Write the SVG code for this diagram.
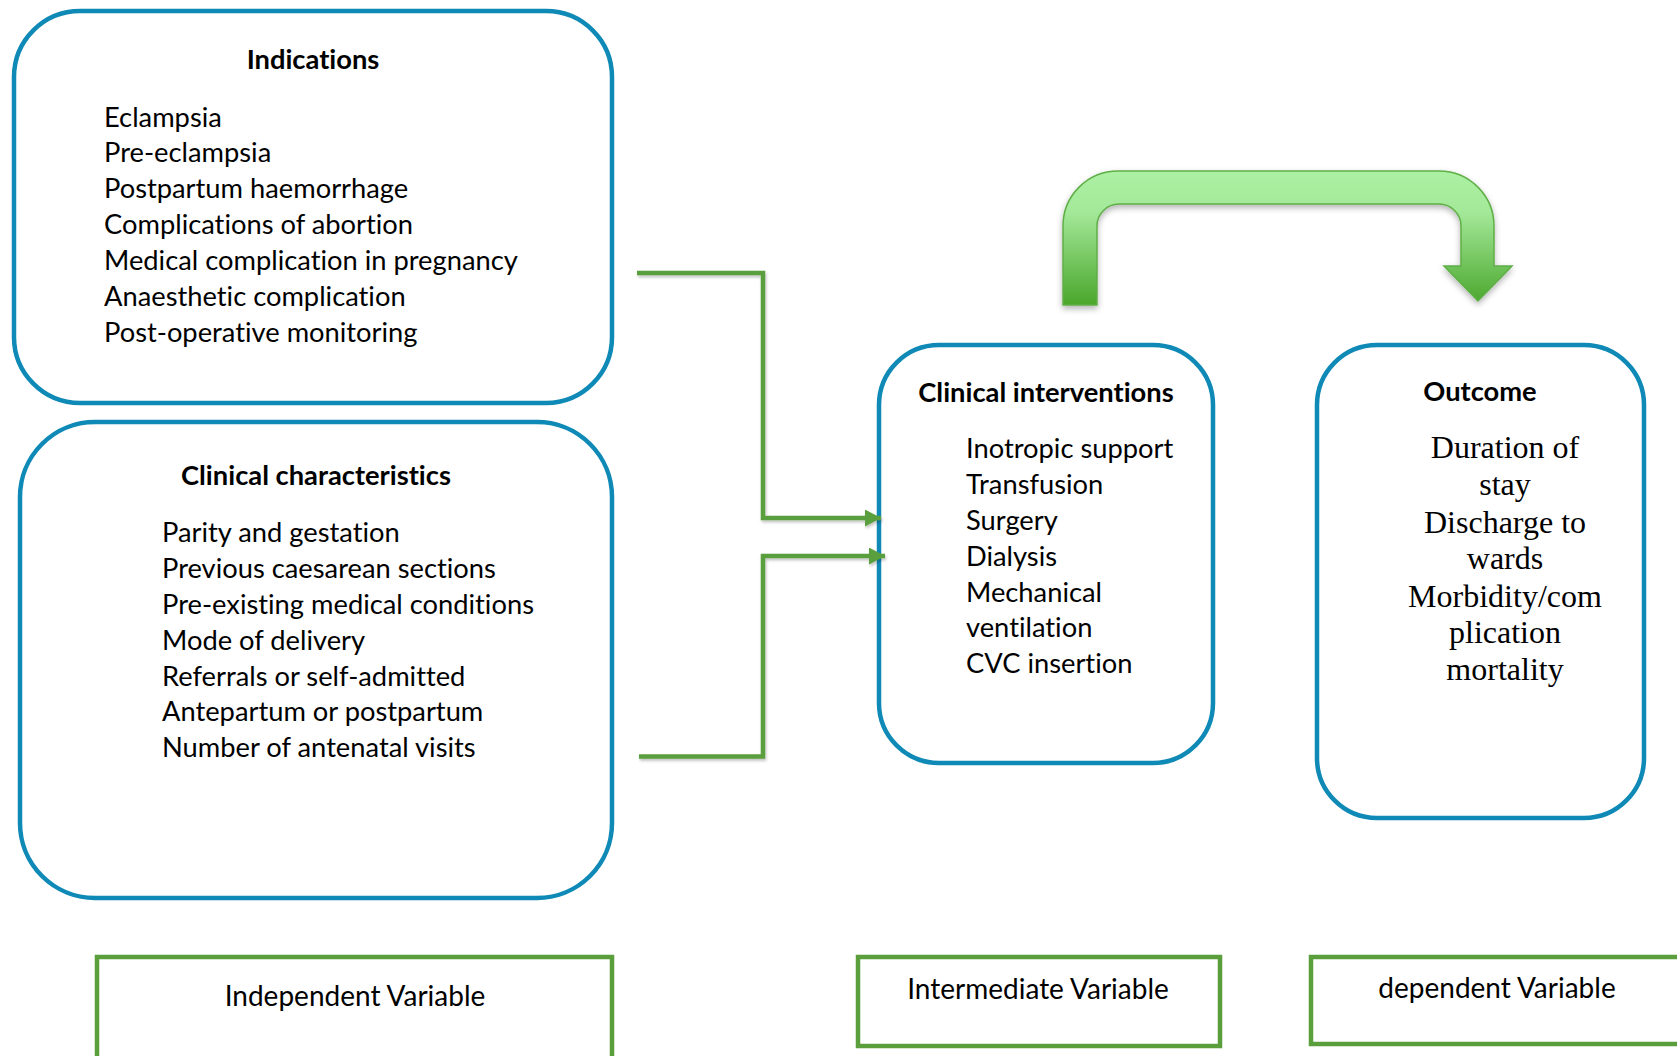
<svg xmlns="http://www.w3.org/2000/svg" width="1677" height="1056" viewBox="0 0 1677 1056">
<defs>
<style>
.box{fill:#fff;stroke:#0F89B5;stroke-width:4.5}
.vbox{fill:#fff;stroke:#5A9F3C;stroke-width:4.5}
.t{font-family:Lato,"Open Sans",sans-serif;font-size:27.3px;fill:#000;font-variant-ligatures:none}
.b{font-size:28px}
.h{font-weight:bold;text-anchor:middle}
.s{font-family:"Liberation Serif",serif;font-size:32px;fill:#000;text-anchor:middle}
.m{text-anchor:middle}
.conn{fill:none;stroke:#5A9F3C;stroke-width:4.5;stroke-linejoin:miter}
</style>
<marker id="ah" viewBox="0 0 16 17" refX="16" refY="8.5" markerWidth="16" markerHeight="17" markerUnits="userSpaceOnUse" orient="auto">
<path d="M0,0 L16,8.5 L0,17 Z" fill="#5A9F3C"/>
</marker>
<linearGradient id="gg" gradientUnits="userSpaceOnUse" x1="0" y1="171" x2="0" y2="305">
<stop offset="0" stop-color="#ACF0A3"/>
<stop offset="0.3" stop-color="#A4E99A"/>
<stop offset="1" stop-color="#4AA62B"/>
</linearGradient>
<filter id="sh" x="-10%" y="-10%" width="120%" height="130%">
<feDropShadow dx="0" dy="3" stdDeviation="3" flood-color="#000" flood-opacity="0.3"/>
</filter>
<filter id="sh2" x="-10%" y="-10%" width="120%" height="130%">
<feDropShadow dx="1" dy="2" stdDeviation="1.5" flood-color="#000" flood-opacity="0.25"/>
</filter>
</defs>
<rect width="1677" height="1056" fill="#fff"/>

<g id="indications">
<rect class="box" x="14" y="11" width="598" height="392" rx="66" ry="66"/>
<text class="t h" x="313" y="69">Indications</text>
<text class="t" x="104" y="127">Eclampsia</text>
<text class="t" x="104" y="162">Pre-eclampsia</text>
<text class="t" x="104" y="198">Postpartum haemorrhage</text>
<text class="t" x="104" y="234">Complications of abortion</text>
<text class="t" x="104" y="270">Medical complication in pregnancy</text>
<text class="t" x="104" y="306">Anaesthetic complication</text>
<text class="t" x="104" y="342">Post-operative monitoring</text>
</g>

<g id="clinical-characteristics">
<rect class="box" x="20" y="422" width="592" height="476" rx="75" ry="75"/>
<text class="t h" x="316" y="485">Clinical characteristics</text>
<text class="t" x="162" y="542">Parity and gestation</text>
<text class="t" x="162" y="578">Previous caesarean sections</text>
<text class="t" x="162" y="614">Pre-existing medical conditions</text>
<text class="t" x="162" y="650">Mode of delivery</text>
<text class="t" x="162" y="686">Referrals or self-admitted</text>
<text class="t" x="162" y="721">Antepartum or postpartum</text>
<text class="t" x="162" y="757">Number of antenatal visits</text>
</g>

<g id="clinical-interventions">
<rect class="box" x="879" y="345" width="334" height="418" rx="60" ry="60"/>
<text class="t h" x="1046" y="402">Clinical interventions</text>
<text class="t" x="966" y="458">Inotropic support</text>
<text class="t" x="966" y="494">Transfusion</text>
<text class="t" x="966" y="530">Surgery</text>
<text class="t" x="966" y="566">Dialysis</text>
<text class="t" x="966" y="602">Mechanical</text>
<text class="t" x="966" y="637">ventilation</text>
<text class="t" x="966" y="673">CVC insertion</text>
</g>

<g id="outcome">
<rect class="box" x="1317" y="345" width="327" height="473" rx="60" ry="60"/>
<text class="t h" x="1480" y="401">Outcome</text>
<text class="s" x="1505" y="458">Duration of</text>
<text class="s" x="1505" y="495">stay</text>
<text class="s" x="1505" y="533">Discharge to</text>
<text class="s" x="1505" y="569">wards</text>
<text class="s" x="1505" y="607">Morbidity/com</text>
<text class="s" x="1505" y="643">plication</text>
<text class="s" x="1505" y="680">mortality</text>
</g>

<g id="independent-variable">
<rect class="vbox" x="97" y="957" width="515" height="130"/>
<text class="t b m" x="355" y="1006">Independent Variable</text>
</g>

<g id="intermediate-variable">
<rect class="vbox" x="858" y="957" width="362" height="89"/>
<text class="t b m" x="1038" y="999">Intermediate Variable</text>
</g>

<g id="dependent-variable">
<rect class="vbox" x="1311" y="957" width="400" height="87"/>
<text class="t b m" x="1497" y="998">dependent Variable</text>
</g>

<g id="connectors">
<path class="conn" filter="url(#sh2)" d="M637,273 H763 V518 H881" marker-end="url(#ah)"/>
<path class="conn" filter="url(#sh2)" d="M639,756.5 H763 V556 H885" marker-end="url(#ah)"/>
<path id="big-arrow" filter="url(#sh)" fill="url(#gg)" stroke="#5FAF47" stroke-width="1.5" d="M1063,305 V226 A55,55 0 0 1 1118,171 H1439 A55,55 0 0 1 1494,226 V266 H1512 L1478,301 L1444,266 H1461 V226 A22,22 0 0 0 1439,204 H1119 A22,22 0 0 0 1097,226 V305 Z"/>
</g>
</svg>
